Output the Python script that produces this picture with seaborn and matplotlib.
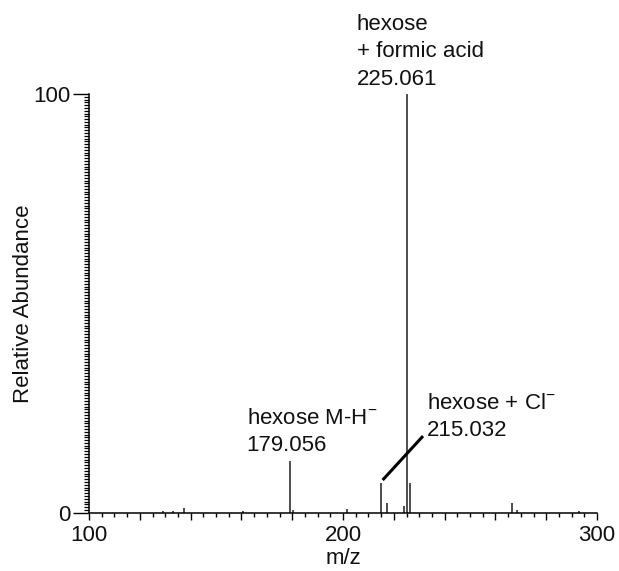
import numpy as np
import pandas as pd
import matplotlib
matplotlib.use("Agg")
import matplotlib.pyplot as plt
import seaborn as sns
from matplotlib.ticker import MultipleLocator, FixedLocator, FuncFormatter

# peak list (m/z, relative abundance %)
mz = [129.3, 133.2, 137.5, 160.7, 179.056, 180.5, 201.7, 215.032, 217.2,
      224.1, 225.061, 226.3, 266.7, 268.6, 293.0]
abundance = [0.3, 0.5, 1.1, 0.3, 12.4, 0.6, 0.8, 7.0, 2.2,
             1.5, 100.0, 7.0, 2.4, 0.6, 0.5]

label_text = ["hexose\n+ formic acid\n225.061",
              "hexose M-H$^{-}$\n179.056",
              "hexose + Cl$^{-}$\n215.032"]
label_pos = [(205.4, 119.1), (162.1, 25.1), (233.0, 28.7)]

df = pd.DataFrame({"mz": mz, "abundance": abundance})

sns.set_theme(style="ticks")
plt.rcParams['font.family'] = ['Liberation Sans', 'DejaVu Sans']
plt.rcParams['mathtext.fontset'] = 'custom'
plt.rcParams['mathtext.rm'] = 'Liberation Sans'
plt.rcParams['mathtext.it'] = 'Liberation Sans'

fig = plt.figure(figsize=(6.19, 5.71), dpi=100)
ax = fig.add_axes([89 / 619, 1 - 512.7 / 571, (597 - 89) / 619, (512.7 - 94) / 571])

# stick spectrum
ax.vlines(df["mz"], 0, df["abundance"], color="#1e1e1e", linewidth=1.1, clip_on=False)

ax.set_xlim(100, 300)
ax.set_ylim(0, 100)
sns.despine(ax=ax)
for s in ["left", "bottom"]:
    ax.spines[s].set_linewidth(1.1)
    ax.spines[s].set_color("black")

# x ticks: minor every 5, major every 20, labels only at 100/200/300
ax.xaxis.set_major_locator(MultipleLocator(20))
ax.xaxis.set_minor_locator(MultipleLocator(5))
ax.xaxis.set_major_formatter(FuncFormatter(lambda v, p: f"{v:.0f}" if round(v) % 100 == 0 else ""))
ax.tick_params(axis="x", which="major", length=5, width=1.0, direction="out", pad=3.5,
               labelsize=16, color="black", labelcolor="#111111")
ax.tick_params(axis="x", which="minor", length=3, width=1.0, direction="out", color="black")

# y ticks: 0 and 100 long, dense short minor ticks
ax.yaxis.set_major_locator(FixedLocator([0, 100]))
ax.yaxis.set_minor_locator(FixedLocator(np.linspace(0, 100, 151)))
ax.tick_params(axis="y", which="major", length=11.5, width=1.0, direction="out", pad=1.5,
               labelsize=16, color="black", labelcolor="#111111")
ax.tick_params(axis="y", which="minor", length=3.6, width=0.9, direction="out", color="black")

ax.set_xlabel("m/z", fontsize=16, labelpad=2, color="#111111")
ax.set_ylabel("Relative Abundance", fontsize=16, labelpad=0, color="#111111")

# peak labels
for (x, y), txt in zip(label_pos, label_text):
    ax.text(x, y, txt, fontsize=16, ha="left", va="top", linespacing=1.4,
            color="#111111", clip_on=False)

# leader line for the chloride adduct
ax.plot([215.6, 231.5], [7.8, 18.3], color="black", linewidth=2.2, solid_capstyle="butt")

fig.savefig("out.png", dpi=100)
